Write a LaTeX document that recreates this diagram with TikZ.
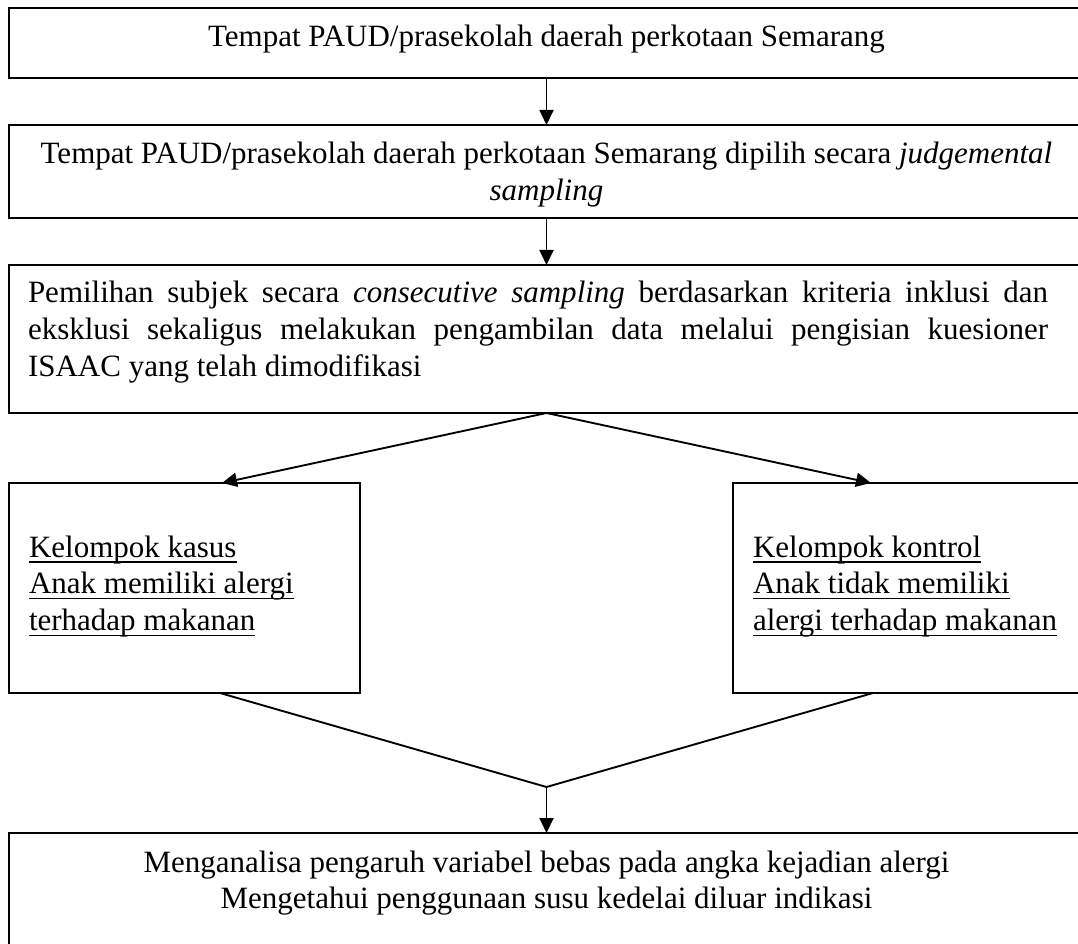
\documentclass[tikz,border=0pt]{standalone}
\usepackage{fontspec}
\setmainfont{Liberation Serif}
\usetikzlibrary{arrows.meta}
\newcommand\myul[1]{\leavevmode\setbox0=\hbox{#1}\rlap{\rule[-2.3pt]{\wd0}{0.55pt}}\box0}
\begin{document}
\begin{tikzpicture}[x=0.4pt,y=-0.4pt,
  box/.style={draw, line width=0.75pt, rectangle, inner sep=0pt, outer sep=0pt},
  txt/.style={inner sep=0pt, outer sep=0pt, font=\fontsize{12.4pt}{14.64pt}\selectfont},
  arr/.style={line width=0.75pt, -{Triangle[length=6pt,width=5.6pt]}},
  ln/.style={line width=0.75pt}]
\useasboundingbox (0,0) rectangle (1078,944);
\clip (0,0) rectangle (1078,944);
% boxes
\node[box, minimum width=430pt, minimum height=28pt] (b1) at (546.5,43) {};
\node[box, minimum width=430pt, minimum height=37.2pt] (b2) at (546.5,171.5) {};
\node[box, minimum width=430pt, minimum height=59.2pt] (b3) at (546.5,339) {};
\node[box, minimum width=140.4pt, minimum height=84pt] (bl) at (184.5,588) {};
\node[box, minimum width=140.4pt, minimum height=84pt] (br) at (908.5,588) {};
\node[box, minimum width=430pt, minimum height=62.8pt] (b4) at (546.5,911.5) {};
% texts
\node[txt, anchor=base] (t1) at (546.5,47) {Tempat PAUD/prasekolah daerah perkotaan Semarang};
\node[txt, anchor=base] (t2) at (546.5,164) {\parbox[t]{430pt}{\centering Tempat PAUD/prasekolah daerah perkotaan Semarang dipilih secara \textit{judgemental}\\ \textit{sampling}}};
\node[txt, anchor=base west] (t3) at (28,303) {\parbox[t]{408pt}{Pemilihan subjek secara \textit{consecutive sampling} berdasarkan kriteria inklusi dan\linebreak eksklusi sekaligus melakukan pengambilan data melalui pengisian kuesioner\linebreak ISAAC yang telah dimodifikasi}};
\node[txt, anchor=base west] (tl) at (29,557) {\parbox[t]{150pt}{\raggedright\myul{Kelompok kasus}\\ \myul{Anak memiliki alergi}\\ \myul{terhadap makanan}}};
\node[txt, anchor=base west] (tr) at (753,557) {\parbox[t]{150pt}{\raggedright\myul{Kelompok kontrol}\\ \myul{Anak tidak memiliki}\\ \myul{alergi terhadap makanan}}};
\node[txt, anchor=base] (t4) at (546.5,872) {\parbox[t]{430pt}{\centering Menganalisa pengaruh variabel bebas pada angka kejadian alergi\\ Mengetahui penggunaan susu kedelai diluar indikasi}};
% connectors
\draw[arr] (b1.south) -- (b2.north);
\draw[arr] (b2.south) -- (b3.north);
\draw[arr] (b3.south) -- ([xshift=15pt]bl.north);
\draw[arr] (b3.south) -- ([xshift=-15pt]br.north);
\coordinate (m) at (546.5,787);
\draw[ln] ([xshift=14.2pt]bl.south) -- (m) -- ([xshift=-14.2pt]br.south);
\draw[arr] (m) -- (b4.north);
\end{tikzpicture}
\end{document}
